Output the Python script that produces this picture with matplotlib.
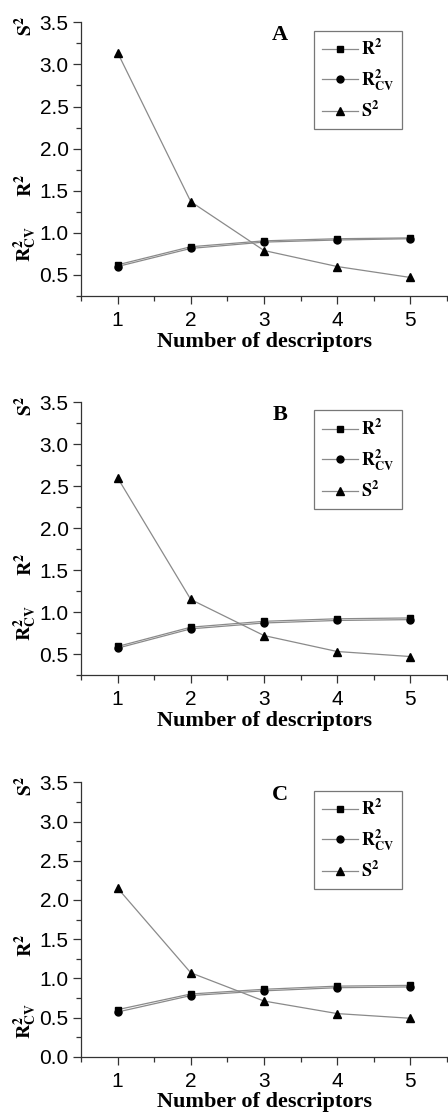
import matplotlib
matplotlib.use("Agg")
import matplotlib.pyplot as plt
from matplotlib.ticker import MultipleLocator

x = [1, 2, 3, 4, 5]
panels = ["A", "B", "C"]
r2 = {
    "A": [0.62, 0.835, 0.905, 0.93, 0.94],
    "B": [0.59, 0.82, 0.89, 0.92, 0.93],
    "C": [0.60, 0.80, 0.86, 0.90, 0.91],
}
r2cv = {
    "A": [0.60, 0.815, 0.89, 0.915, 0.93],
    "B": [0.57, 0.80, 0.87, 0.90, 0.91],
    "C": [0.57, 0.78, 0.84, 0.88, 0.89],
}
s2 = {
    "A": [3.14, 1.37, 0.79, 0.60, 0.47],
    "B": [2.60, 1.15, 0.72, 0.53, 0.47],
    "C": [2.15, 1.07, 0.71, 0.55, 0.49],
}
ylims = {"A": (0.25, 3.5), "B": (0.25, 3.5), "C": (0.0, 3.5)}
xlabel = "Number of descriptors"

plt.rcParams["mathtext.fontset"] = "stix"
SERIF = "Liberation Serif"
SANS = "Liberation Sans"

W, H = 448, 1115
fig = plt.figure(figsize=(W / 100, H / 100), dpi=100)

# axes boxes in pixels: (left, top, right, bottom)
boxes = {
    "A": (81, 22.3, 447, 296),
    "B": (81, 402.3, 447, 675),
    "C": (81, 782.3, 447, 1056.7),
}

line_col = "#8a8a8a"
for p in panels:
    l, t, r, b = boxes[p]
    ax = fig.add_axes([l / W, (H - b) / H, (r - l) / W, (b - t) / H])
    ax.plot(x, r2[p], color=line_col, lw=0.9, marker="s", ms=4.5,
            mfc="black", mec="black", label=r"$\mathbf{R^2}$")
    ax.plot(x, r2cv[p], color=line_col, lw=0.9, marker="o", ms=5,
            mfc="black", mec="black", label=r"$\mathbf{R^2_{CV}}$")
    ax.plot(x, s2[p], color=line_col, lw=0.9, marker="^", ms=5.5,
            mfc="black", mec="black", label=r"$\mathbf{S^2}$")
    ax.set_xlim(0.5, 5.5)
    ax.set_ylim(*ylims[p])
    ax.xaxis.set_major_locator(MultipleLocator(1))
    ax.xaxis.set_minor_locator(MultipleLocator(0.5))
    ax.yaxis.set_major_locator(MultipleLocator(0.5))
    ax.yaxis.set_minor_locator(MultipleLocator(0.25))
    for s in ("top", "right"):
        ax.spines[s].set_visible(False)
    for s in ("left", "bottom"):
        ax.spines[s].set_color("#333333")
        ax.spines[s].set_linewidth(0.9)
    ax.tick_params(which="major", direction="out", length=6, width=0.9,
                   color="#333333", labelsize=15, pad=3)
    ax.tick_params(which="minor", direction="out", length=3.6, width=0.9,
                   color="#333333")
    ax.tick_params(axis="x", which="major", pad=5)
    for lab in ax.get_xticklabels() + ax.get_yticklabels():
        lab.set_fontfamily(SANS)
    ax.set_xlabel(xlabel, fontfamily=SERIF, fontweight="bold", fontsize=16,
                  labelpad=1)
    ax.text(0.544, 0.955, p, transform=ax.transAxes, ha="center", va="center",
            fontfamily=SERIF, fontweight="bold", fontsize=16)
    leg = ax.legend(loc="upper left", bbox_to_anchor=(0.637, 0.97),
                    fancybox=False, framealpha=1, edgecolor="#777777",
                    fontsize=13, numpoints=1, handlelength=2.0,
                    handletextpad=0.15, labelspacing=0.45,
                    borderpad=0.45, borderaxespad=0)
    leg.get_frame().set_linewidth(0.9)
    # stacked y-axis labels
    ax.text(-0.153, 0.985, r"$\mathbf{S^2}$", transform=ax.transAxes,
            rotation=90, ha="center", va="center", fontsize=14)
    ax.text(-0.153, 0.405, r"$\mathbf{R^2}$", transform=ax.transAxes,
            rotation=90, ha="center", va="center", fontsize=14)
    ax.text(-0.153, 0.19 if p != "C" else 0.13, r"$\mathbf{R^2_{CV}}$",
            transform=ax.transAxes, rotation=90, ha="center", va="center",
            fontsize=14)

fig.savefig("out.png", dpi=100)
